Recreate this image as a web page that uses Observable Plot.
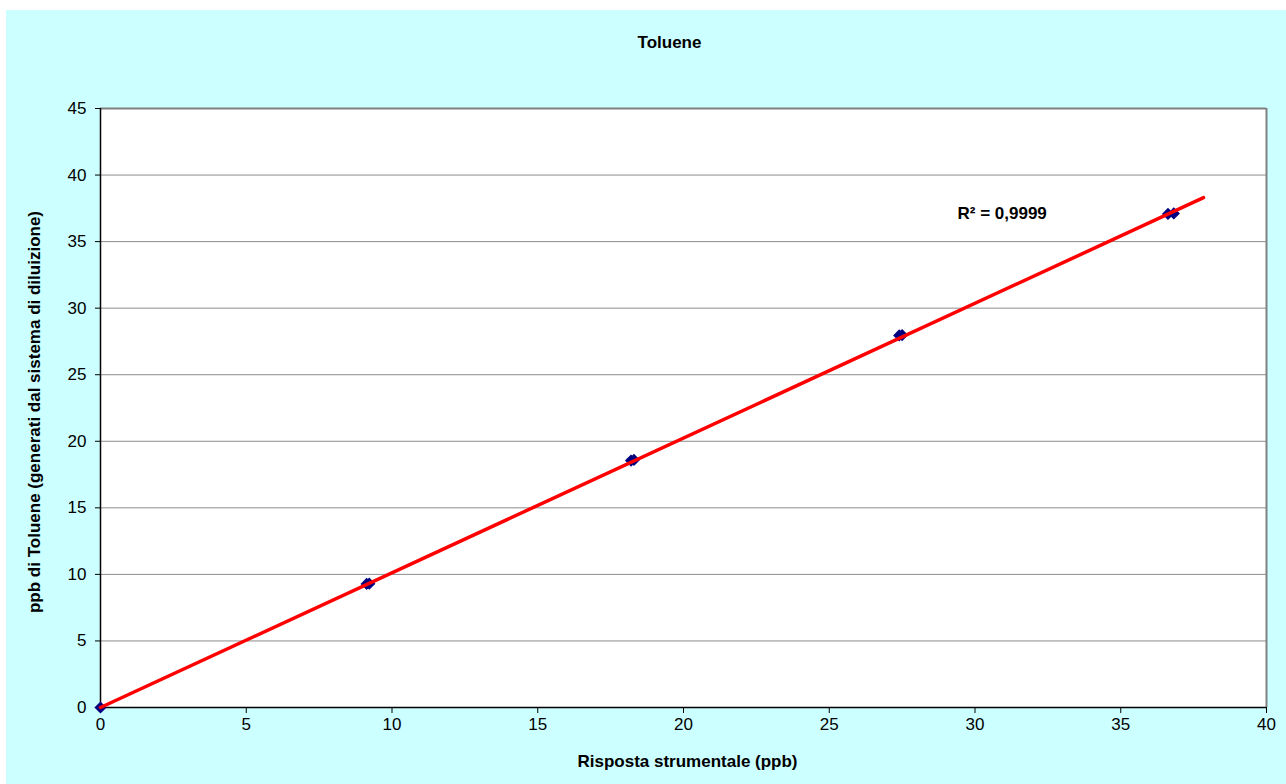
<!DOCTYPE html>
<html>
<head>
<meta charset="utf-8">
<script src="https://cdn.jsdelivr.net/npm/d3@7"></script>
<script src="https://cdn.jsdelivr.net/npm/@observablehq/plot@0.6"></script>
<style>
  html, body { margin: 0; padding: 0; background: #ffffff; }
  #chart { position: absolute; left: 6px; top: 10px; }
</style>
</head>
<body>
<div id="chart"></div>
<script>
const chartTitle = "Toluene";
const xTitle = "Risposta strumentale (ppb)";
const yTitle = "ppb di Toluene (generati dal sistema di diluizione)";
const r2Label = "R² = 0,9999";

// measured points (x = instrument response, y = generated ppb)
const respX = [0, 9.13, 9.22, 18.2, 18.3, 27.4, 27.5, 36.62, 36.82];
const ppbY  = [0, 9.28, 9.3, 18.55, 18.6, 27.95, 27.98, 37.08, 37.12];

// linear trendline endpoints
const trendX = [0, 37.84];
const trendY = [0, 38.3];

const xTicks = [0, 5, 10, 15, 20, 25, 30, 35, 40];
const yTicks = [0, 5, 10, 15, 20, 25, 30, 35, 40, 45];
const gridY = [5, 10, 15, 20, 25, 30, 35, 40];

const r2Pos = {x: 29.4, y: 37.1};

const points = respX.map((x, i) => ({x, y: ppbY[i]}));
const trend = trendX.map((x, i) => ({x, y: trendY[i]}));

const font = "'Liberation Sans', Arial, Helvetica, sans-serif";

const chart = Plot.plot({
  width: 1280,
  height: 774,
  marginLeft: 94,
  marginRight: 20,
  marginTop: 98,
  marginBottom: 77,
  style: {background: "#ccffff", fontFamily: font, fontSize: "17px", color: "#000"},
  x: {domain: [0, 40]},
  y: {domain: [0, 45]},
  marks: [
    Plot.frame({fill: "#ffffff", stroke: "none"}),
    Plot.ruleY(gridY, {stroke: "#8c8c8c", strokeWidth: 1}),
    Plot.ruleY([45], {stroke: "#808080", strokeWidth: 2}),
    Plot.ruleX([40], {stroke: "#808080", strokeWidth: 2}),
    Plot.ruleX([0], {stroke: "#000", strokeWidth: 1.5}),
    Plot.ruleY([0], {stroke: "#000", strokeWidth: 1.5}),
    Plot.axisX({ticks: xTicks, tickSize: 6, tickPadding: 4, tickFormat: d => String(d), label: null, fontSize: 17}),
    Plot.axisY({ticks: yTicks, tickSize: 5, tickPadding: 9, tickFormat: d => String(d), label: null, fontSize: 17}),
    Plot.dot(points, {x: "x", y: "y", symbol: "diamond2", r: 5.5, fill: "#000080", stroke: "none"}),
    Plot.line(trend, {x: "x", y: "y", stroke: "#ff0000", strokeWidth: 3.5}),
    Plot.text([r2Label], {x: () => r2Pos.x, y: () => r2Pos.y, text: d => d, textAnchor: "start", fontWeight: "bold", fontSize: 17}),
    Plot.text([chartTitle], {frameAnchor: "top", text: d => d, dx: -14, dy: -66, lineAnchor: "middle", fontWeight: "bold", fontSize: 17}),
    Plot.text([xTitle], {frameAnchor: "bottom", text: d => d, dx: 4, dy: 54, lineAnchor: "middle", fontWeight: "bold", fontSize: 17}),
    Plot.text([yTitle], {frameAnchor: "left", text: d => d, dx: -66, dy: 4, rotate: -90, textAnchor: "middle", lineAnchor: "middle", fontWeight: "bold", fontSize: 17})
  ]
});
document.getElementById("chart").appendChild(chart);
</script>
</body>
</html>
